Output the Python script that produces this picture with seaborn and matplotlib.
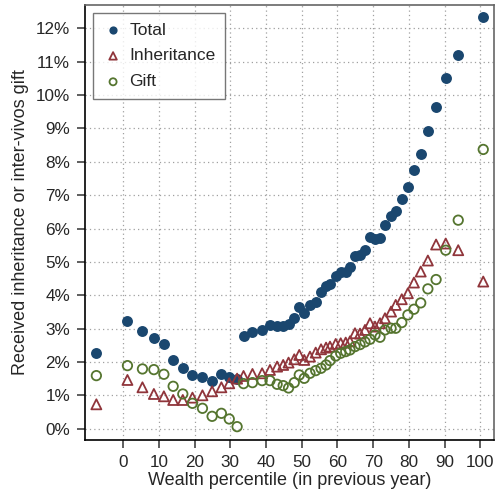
import matplotlib
matplotlib.use("Agg")
import matplotlib.pyplot as plt
import matplotlib.ticker as mticker
import pandas as pd
import seaborn as sns

# wealth percentile positions (shared by all three series)
percentile = [-7.5, 1.2, 5.4, 8.6, 11.4, 14.0, 16.7, 19.4, 22.2, 24.9,
              27.5, 29.7, 31.9, 33.7, 36.2, 38.9, 41.1, 43.1, 44.8, 46.3,
              47.9, 49.3, 50.7, 52.3, 53.9, 55.4, 56.8, 57.9, 59.5, 60.9,
              62.3, 63.5, 64.9, 66.3, 67.7, 69.1, 70.5, 71.9, 73.3, 75.0,
              76.3, 78.0, 79.7, 81.4, 83.3, 85.3, 87.6, 90.3, 93.8, 100.8]

total = [2.26, 3.23, 2.94, 2.73, 2.53, 2.05, 1.82, 1.61, 1.54, 1.43,
         1.64, 1.56, 1.49, 2.79, 2.90, 2.97, 3.12, 3.09, 3.09, 3.14,
         3.32, 3.66, 3.48, 3.72, 3.81, 4.11, 4.29, 4.35, 4.57, 4.69,
         4.69, 4.85, 5.17, 5.22, 5.37, 5.74, 5.70, 5.72, 6.12, 6.37,
         6.52, 6.87, 7.24, 7.75, 8.22, 8.92, 9.65, 10.52, 11.19, 12.35]

inheritance = [0.73, 1.46, 1.24, 1.04, 0.97, 0.86, 0.86, 0.93, 1.00, 1.12,
               1.24, 1.36, 1.50, 1.58, 1.64, 1.66, 1.76, 1.86, 1.91, 1.98,
               2.08, 2.21, 2.06, 2.16, 2.28, 2.38, 2.43, 2.46, 2.54, 2.56,
               2.58, 2.62, 2.86, 2.85, 2.96, 3.16, 3.06, 3.16, 3.31, 3.51,
               3.71, 3.88, 4.06, 4.38, 4.71, 5.04, 5.52, 5.55, 5.35, 4.41]

gift = [1.59, 1.89, 1.79, 1.77, 1.63, 1.27, 1.04, 0.76, 0.61, 0.37,
        0.46, 0.29, 0.06, 1.35, 1.38, 1.44, 1.44, 1.33, 1.29, 1.22,
        1.38, 1.61, 1.51, 1.66, 1.74, 1.81, 1.91, 2.04, 2.18, 2.26,
        2.31, 2.36, 2.46, 2.52, 2.60, 2.68, 2.81, 2.74, 2.96, 3.01,
        3.01, 3.18, 3.41, 3.58, 3.77, 4.19, 4.47, 5.35, 6.25, 8.37]

x_ticks = list(range(0, 101, 10))
y_ticks = list(range(0, 13))

NAVY = "#1a476f"
MAROON = "#90353b"
GREEN = "#55752f"

sns.set_style("white")
plt.rcParams["font.family"] = ["Liberation Sans", "DejaVu Sans"]

df = pd.DataFrame({"pct": percentile, "Total": total,
                   "Inheritance": inheritance, "Gift": gift})

fig = plt.figure(figsize=(4.97, 4.95), dpi=100)
ax = fig.add_axes([0.1716, 0.1111, 0.8230, 0.8788])

sns.scatterplot(data=df, x="pct", y="Total", ax=ax, color=NAVY, marker="o",
                s=62, edgecolor=NAVY, linewidth=0, label="Total", zorder=3)
sns.scatterplot(data=df, x="pct", y="Inheritance", ax=ax, marker="^",
                s=52, facecolor="none", edgecolor=MAROON, linewidth=1.3,
                label="Inheritance", zorder=3)
sns.scatterplot(data=df, x="pct", y="Gift", ax=ax, marker="o",
                s=46, facecolor="none", edgecolor=GREEN, linewidth=1.3,
                label="Gift", zorder=3)

ax.set_xlim(-10.6, 103.9)
ax.set_ylim(-0.34, 12.7)
ax.set_xticks(x_ticks)
ax.set_yticks(y_ticks)
ax.yaxis.set_major_formatter(mticker.FuncFormatter(lambda v, _: f"{v:.0f}%"))

ax.grid(True, linestyle=(0, (1, 2.5)), color="#a0a0a0", linewidth=0.9)
ax.set_axisbelow(True)

for side in ("left", "bottom"):
    ax.spines[side].set_color("black")
    ax.spines[side].set_linewidth(1.2)
for side in ("top", "right"):
    ax.spines[side].set_color("#666666")
    ax.spines[side].set_linewidth(1.2)

ax.tick_params(axis="both", direction="out", length=6, width=1.1,
               color="#333333", labelsize=12.3, pad=5,
               left=True, bottom=True)

ax.set_xlabel("Wealth percentile (in previous year)", fontsize=13, labelpad=1)
ax.set_ylabel("Received inheritance or inter-vivos gift", fontsize=13,
              labelpad=5)

leg = ax.legend(loc="upper left", fontsize=12.5, frameon=True, fancybox=False,
                edgecolor="#555555", borderpad=0.55, handletextpad=0.35,
                labelspacing=0.62, borderaxespad=0.45, handlelength=1.2,
                markerscale=0.75)
leg.get_frame().set_linewidth(1.0)

fig.savefig("out.png", dpi=100)
